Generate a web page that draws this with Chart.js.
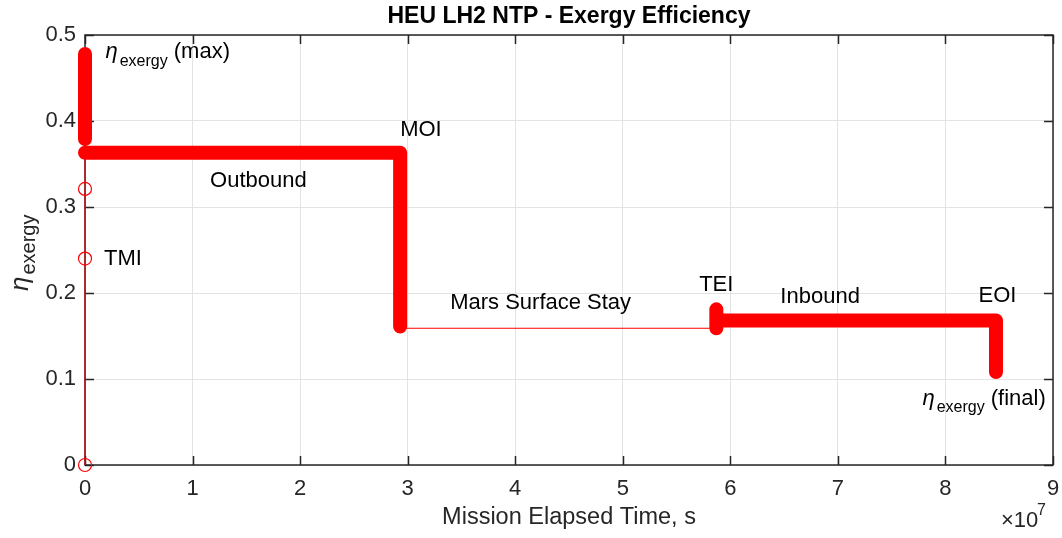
<!DOCTYPE html>
<html>
<head>
<meta charset="utf-8">
<script src="https://cdn.jsdelivr.net/npm/chart.js@4/dist/chart.umd.min.js"></script>
<style>
html,body{margin:0;padding:0;background:#fff;}
</style>
</head>
<body>
<canvas id="grafico" width="1062" height="538"></canvas>
<script>
// mission path: time (s) and exergy efficiency
const rutaX = [0, 0, 0, 0, 2.93e7, 2.93e7, 5.87e7, 5.87e7, 5.87e7, 8.47e7, 8.47e7];
const rutaY = [0, 0.478, 0.379, 0.363, 0.363, 0.159, 0.159, 0.181, 0.168, 0.168, 0.108];

// burn phases, drawn as dense markers (thick strokes)
const maxX = [0, 0];
const maxY = [0.379, 0.478];
const salidaX = [0, 2.93e7, 2.93e7];
const salidaY = [0.363, 0.363, 0.161];
const regresoX = [5.87e7, 5.87e7, 5.87e7, 8.47e7, 8.47e7];
const regresoY = [0.159, 0.181, 0.168, 0.168, 0.108];

// single hollow markers at TMI
const puntosX = [0, 0, 0];
const puntosY = [0, 0.24, 0.321];

// axis ticks
const ticksX = [0, 1, 2, 3, 4, 5, 6, 7, 8, 9];
const ticksY = [0, 0.1, 0.2, 0.3, 0.4, 0.5];

// text labels in data coords ("" = eta with subscript)
const textos = ["", "Outbound", "MOI", "TMI", "Mars Surface Stay", "TEI", "Inbound", "EOI", ""];
const textosX = [0.19e7, 1.163e7, 2.93e7, 0.177e7, 3.395e7, 5.71e7, 6.465e7, 8.307e7, 7.786e7];
const textosY = [0.480, 0.330, 0.3895, 0.2395, 0.188, 0.209, 0.195, 0.1965, 0.077];
const sufijos = [" (max)", "", "", "", "", "", "", "", " (final)"];

const FUENTE = '"Liberation Sans", Arial, Helvetica, sans-serif';
const GRIS = "#262626";

function pares(xs, ys){
  return xs.map((v, i) => ({x: v, y: ys[i]}));
}

function eta(ctx, x, y, sufijo, grande, chica, baja){
  ctx.textBaseline = "middle";
  ctx.textAlign = "left";
  ctx.font = "italic " + grande + "px " + FUENTE;
  ctx.fillText("η", x, y);
  let w = ctx.measureText("η").width + 2;
  ctx.font = chica + "px " + FUENTE;
  ctx.fillText("exergy", x + w, y + baja);
  w += ctx.measureText("exergy").width;
  if(sufijo){
    ctx.font = grande + "px " + FUENTE;
    ctx.fillText(sufijo, x + w, y);
  }
}

const decoracion = {
  id: "decoracion",
  beforeDatasetsDraw(chart){
    const ctx = chart.ctx;
    const a = chart.chartArea;
    const sx = chart.scales.x;
    const sy = chart.scales.y;
    ctx.save();
    ctx.strokeStyle = GRIS;
    ctx.lineWidth = 1.5;
    ctx.beginPath();
    ticksX.forEach(t => {
      const px = Math.round(sx.getPixelForValue(t * 1e7)) + 0.5;
      ctx.moveTo(px, a.bottom); ctx.lineTo(px, a.bottom - 9);
      ctx.moveTo(px, a.top); ctx.lineTo(px, a.top + 9);
    });
    ticksY.forEach(t => {
      const py = Math.round(sy.getPixelForValue(t)) + 0.5;
      ctx.moveTo(a.left, py); ctx.lineTo(a.left + 9, py);
      ctx.moveTo(a.right, py); ctx.lineTo(a.right - 9, py);
    });
    ctx.stroke();
    ctx.strokeRect(a.left, a.top, a.right - a.left, a.bottom - a.top);
    ctx.restore();
  },
  afterDraw(chart){
    const ctx = chart.ctx;
    const sx = chart.scales.x;
    const sy = chart.scales.y;
    ctx.save();
    ctx.fillStyle = "#000";
    textos.forEach((t, i) => {
      const px = sx.getPixelForValue(textosX[i]);
      const py = sy.getPixelForValue(textosY[i]);
      if(t === ""){
        eta(ctx, px, py, sufijos[i], 22, 16, 9);
      }else{
        ctx.font = "22px " + FUENTE;
        ctx.textAlign = "left";
        ctx.textBaseline = "middle";
        ctx.fillText(t, px, py);
      }
    });

    // title
    ctx.font = "bold 23px " + FUENTE;
    ctx.textAlign = "center";
    ctx.textBaseline = "middle";
    ctx.fillText("HEU LH2 NTP - Exergy Efficiency", 569, 17);

    // x label
    ctx.fillStyle = GRIS;
    ctx.font = "23.5px " + FUENTE;
    ctx.fillText("Mission Elapsed Time, s", 569, 518);

    // exponent
    ctx.textAlign = "left";
    ctx.font = "22px " + FUENTE;
    ctx.fillText("×10", 1001, 521);
    ctx.font = "16px " + FUENTE;
    ctx.fillText("7", 1037, 511);

    // y label
    ctx.translate(21, 291);
    ctx.rotate(-Math.PI / 2);
    eta(ctx, 0, 0, "", 26, 20, 8);
    ctx.restore();
  }
};

const datos = {
  datasets: [
    {type: "line", data: pares(rutaX, rutaY), borderColor: "#ff0000", borderWidth: 1, pointRadius: 0, clip: false},
    {type: "line", data: pares(maxX, maxY), borderColor: "#ff0000", borderWidth: 14, pointRadius: 0,
      borderCapStyle: "round", borderJoinStyle: "round", clip: false},
    {type: "line", data: pares(salidaX, salidaY), borderColor: "#ff0000", borderWidth: 14, pointRadius: 0,
      borderCapStyle: "round", borderJoinStyle: "round", clip: false},
    {type: "line", data: pares(regresoX, regresoY), borderColor: "#ff0000", borderWidth: 14, pointRadius: 0,
      borderCapStyle: "round", borderJoinStyle: "round", clip: false},
    {type: "scatter", data: pares(puntosX, puntosY), borderColor: "#ff0000", backgroundColor: "rgba(0,0,0,0)",
      borderWidth: 1.2, pointRadius: 6.5, clip: false}
  ]
};

const config = {
  data: datos,
  options: {
    responsive: false,
    animation: false,
    devicePixelRatio: 1,
    layout: {padding: {top: 35, right: 9, left: 0, bottom: 0}},
    plugins: {legend: {display: false}, tooltip: {enabled: false}},
    scales: {
      x: {
        type: "linear", min: 0, max: 9e7,
        afterBuildTicks: s => { s.ticks = ticksX.map(v => ({value: v * 1e7})); },
        afterFit: s => { s.height = 73; s.paddingLeft = 0; s.paddingRight = 0; },
        grid: {color: "#e3e3e3", drawTicks: false},
        border: {display: false},
        ticks: {padding: 11, color: GRIS, font: {size: 22, family: FUENTE}, callback: v => String(v / 1e7)}
      },
      y: {
        type: "linear", min: 0, max: 0.5,
        afterBuildTicks: s => { s.ticks = ticksY.map(v => ({value: v})); },
        afterFit: s => { s.width = 85; s.paddingTop = 0; s.paddingBottom = 0; },
        grid: {color: "#e3e3e3", drawTicks: false},
        border: {display: false},
        ticks: {padding: 9, color: GRIS, font: {size: 22, family: FUENTE}, callback: v => String(Math.round(v * 10) / 10)}
      }
    }
  },
  plugins: [decoracion]
};

const chart = new Chart(document.getElementById("grafico"), config);
</script>
</body>
</html>
